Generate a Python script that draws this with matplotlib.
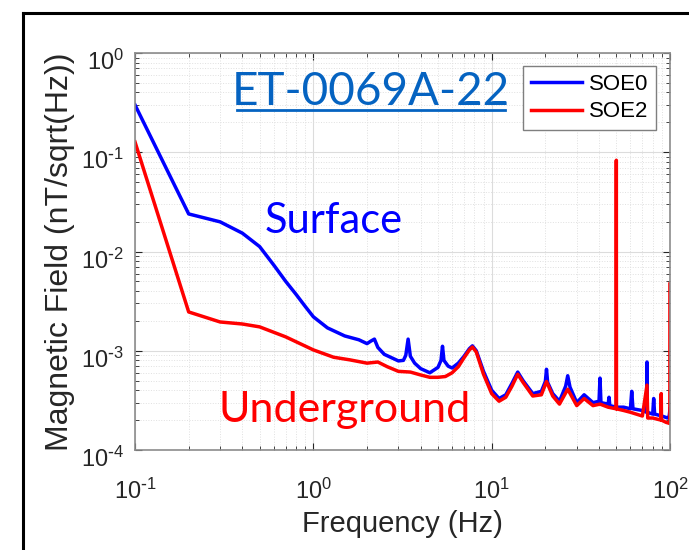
import numpy as np
import matplotlib
matplotlib.use('Agg')
import matplotlib.pyplot as plt
from matplotlib.lines import Line2D
from matplotlib.transforms import ScaledTranslation

# values (Hz, nT/sqrt(Hz))
f_soe0 = [0.1, 0.2, 0.3, 0.4, 0.5, 0.6, 0.7, 0.8, 0.9, 1.0, 1.2, 1.5, 1.8, 2.0, 2.1, 2.2, 2.3, 2.5,
          3.0, 3.2, 3.3, 3.4, 3.5, 3.7, 4.0, 4.5, 5.0, 5.2, 5.3, 5.4, 5.7, 6.0, 6.5, 7.0, 7.5, 7.8,
          8.2, 9.0, 10, 11, 12, 13, 14, 15, 17, 19, 20, 20.3, 20.6, 22, 24, 26, 26.7, 27.5, 30, 33,
          37, 40, 40.5, 41, 45, 45.5, 46, 50, 55, 60, 61, 62, 70, 74, 74.3, 74.6, 80, 81, 82, 90,
          97, 99, 100]
v_soe0 = [0.30, 0.0239, 0.0199, 0.0153, 0.0112, 0.0073, 0.0050, 0.0037, 0.0028, 0.00220, 0.0017,
          0.00141, 0.00129, 0.00118, 0.00125, 0.00131, 0.00108, 0.00092, 0.00079, 0.00080, 0.00090,
          0.00131, 0.00088, 0.00075, 0.00066, 0.00060, 0.00068, 0.00080, 0.00111, 0.00080, 0.00070,
          0.00067, 0.00075, 0.00088, 0.00105, 0.00112, 0.00100, 0.00062, 0.00040, 0.00033, 0.00036,
          0.00047, 0.00061, 0.00050, 0.00037, 0.00039, 0.00049, 0.00065, 0.00048, 0.00037, 0.00031,
          0.00044, 0.00056, 0.00043, 0.00030, 0.00036, 0.00030, 0.00031, 0.00053, 0.00030, 0.00029,
          0.00034, 0.00028, 0.00027, 0.00027, 0.00026, 0.00039, 0.00026, 0.00025, 0.00024, 0.00077,
          0.00024, 0.00023, 0.00033, 0.00023, 0.00022, 0.00021, 0.00022, 0.00026]

f_soe2 = [0.1, 0.2, 0.3, 0.4, 0.5, 0.7, 1.0, 1.3, 1.6, 2.0, 2.3, 2.6, 3.0, 3.5, 4.0, 4.5, 5.0, 5.5,
          6.0, 6.5, 7.0, 7.5, 7.8, 8.2, 9.0, 10, 11, 12, 13, 14, 15, 17, 19, 20.3, 22, 24, 26.7, 30,
          33, 37, 40.5, 45, 49.9, 50, 50.1, 55, 60, 70, 74.3, 75, 80, 89, 89.3, 89.6, 95, 99.8,
          99.9, 100]
v_soe2 = [0.127, 0.00246, 0.00195, 0.00186, 0.00174, 0.00138, 0.00102, 0.00086, 0.00081, 0.00075,
          0.00077, 0.00069, 0.00062, 0.00061, 0.00057, 0.00054, 0.00054, 0.00055, 0.00060, 0.00069,
          0.00085, 0.00102, 0.00109, 0.00097, 0.00058, 0.00037, 0.00031, 0.00034, 0.00044, 0.00058,
          0.00048, 0.00035, 0.00036, 0.00049, 0.00035, 0.00029, 0.00041, 0.00028, 0.00033, 0.00028,
          0.00029, 0.00027, 0.00026, 0.083, 0.00026, 0.00025, 0.00024, 0.00022, 0.00045, 0.00021,
          0.00021, 0.00020, 0.00037, 0.00020, 0.00019, 0.000185, 0.0048, 0.0048]

x_ticks = [0.1, 1, 10, 100]
x_exps = ['-1', '0', '1', '2']
y_ticks = [1e-4, 1e-3, 1e-2, 1e-1, 1]
y_exps = ['-4', '-3', '-2', '-1', '0']

plt.rcParams['font.family'] = ['Liberation Sans', 'DejaVu Sans']
plt.rcParams['axes.unicode_minus'] = False
gray = '#262626'


def sci(e):
    # short hyphen for the minus, like the reference
    e = e.replace('-', r'\text{-}')
    return r'$\mathdefault{10^{%s}}$' % e


fig = plt.figure(figsize=(6.89, 5.5), dpi=100)
ax = fig.add_axes([135/689, 1-450/550, 535/689, 397/550])

ax.plot(f_soe0, v_soe0, color='#0000ff', lw=2.5, label='SOE0')
ax.plot(f_soe2, v_soe2, color='#ff0000', lw=2.5, label='SOE2')

ax.set_xscale('log')
ax.set_yscale('log')
ax.set_xlim(0.1, 100)
ax.set_ylim(1e-4, 1)
ax.set_xticks(x_ticks, [sci(e) for e in x_exps])
ax.set_yticks(y_ticks, [sci(e) for e in y_exps])
ax.grid(True, which='major', color='#dcdcdc', lw=0.8)
ax.grid(True, which='minor', color='#e0e0e0', lw=0.7, ls=':')
ax.tick_params(which='both', direction='in', top=True, right=True, colors=gray, labelsize=17)
ax.tick_params(axis='x', pad=21)
ax.tick_params(axis='y', pad=8)
ax.tick_params(which='major', length=5)
ax.tick_params(which='minor', length=3)
ax.tick_params(axis='y', which='minor', labelleft=False)
ax.tick_params(axis='x', which='minor', labelbottom=False)
for s in ax.spines.values():
    s.set_color('#8c8c8c')
    s.set_linewidth(1.2)

# y tick labels sit a bit below their ticks in the reference
for lab in ax.get_yticklabels():
    lab.set_transform(lab.get_transform() + ScaledTranslation(0, -5/72, fig.dpi_scale_trans))

ax.set_xlabel('Frequency (Hz)', fontsize=21, color=gray, labelpad=4)
ax.set_ylabel('Magnetic Field (nT/sqrt(Hz))', fontsize=23, color=gray, labelpad=4)

leg = ax.legend(loc='upper right', bbox_to_anchor=((656-135)/535, 1-(66-53)/397),
                borderaxespad=0, fontsize=16, fancybox=False, framealpha=1,
                handlelength=2.3, handletextpad=0.3, labelspacing=0.3, borderpad=0.35)
leg.get_frame().set_edgecolor('#7f7f7f')
for t in leg.get_texts():
    t.set_color('black')

# annotations
def px(x, y):
    return x/689, 1-y/550

fig.text(*px(371, 105), 'ET-0069A-22', color='#0563c1', fontsize=33, family='Lato',
         ha='center', va='baseline')
fig.add_artist(Line2D([237/689, 505/689], [1-110/550, 1-110/550], color='#0563c1', lw=2))
fig.text(*px(334, 233), 'Surface', color='#0000ff', fontsize=30, family='Lato',
         ha='center', va='baseline')
fig.text(*px(345, 422), 'Underground', color='#ff0000', fontsize=31, family='Lato',
         ha='center', va='baseline')

# outer frame
fig.add_artist(Line2D([23/689, 23/689], [0, 1-13/550], color='black', lw=2.2))
fig.add_artist(Line2D([23/689, 1], [1-13/550, 1-13/550], color='black', lw=2.2))

fig.savefig('out.png', dpi=100)
